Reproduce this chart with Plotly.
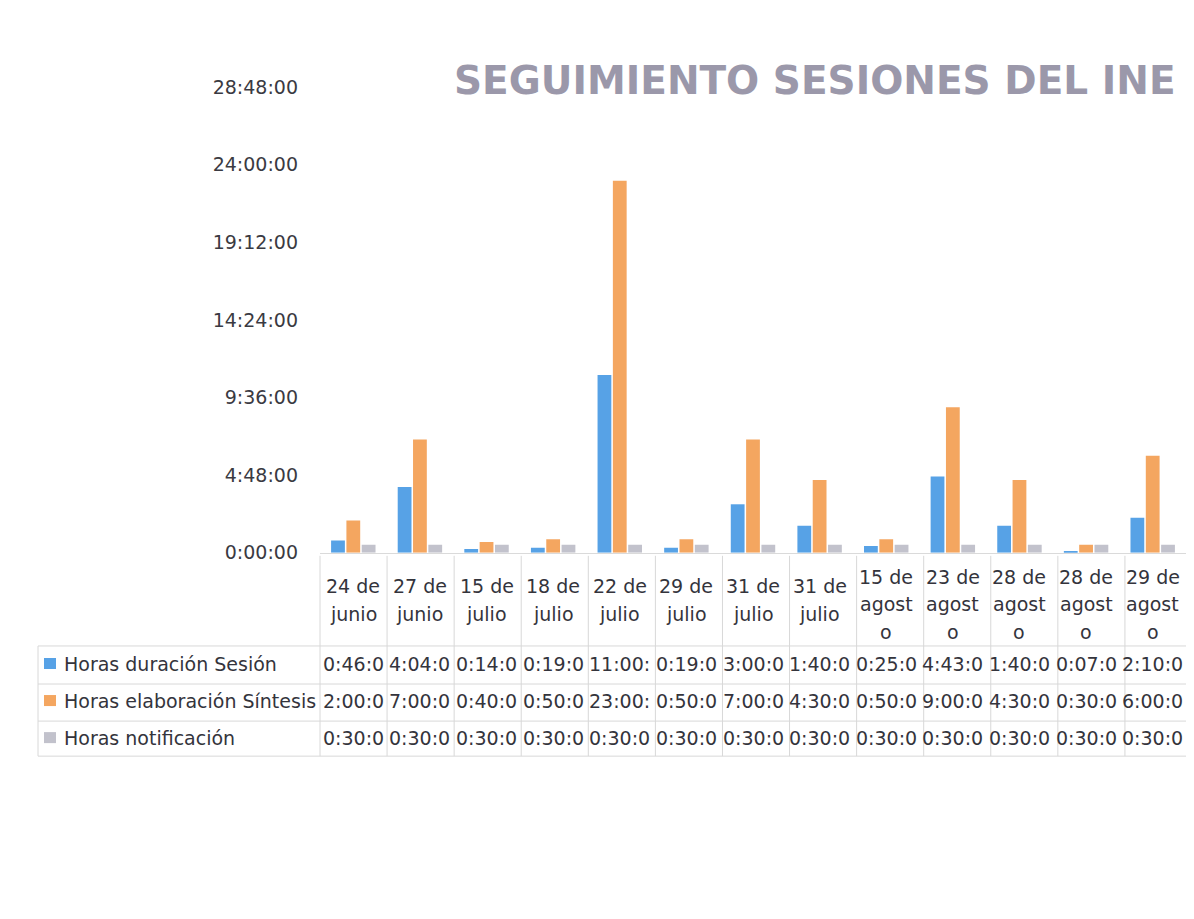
import plotly.graph_objects as go

# Page body has an 8px margin: figure is placed at (8, 8) and sized to stay inside the window
OFF = 8
FW, FH = 1194 - 2 * OFF, 919 - 2 * OFF
# measured vertical mapping of the capture (observed = A + B * placed)
VA, VB = 11.3, 0.974

categories = [
    ["24 de", "junio"], ["27 de", "junio"], ["15 de", "julio"], ["18 de", "julio"],
    ["22 de", "julio"], ["29 de", "julio"], ["31 de", "julio"], ["31 de", "julio"],
    ["15 de", "agost", "o"], ["23 de", "agost", "o"], ["28 de", "agost", "o"],
    ["28 de", "agost", "o"], ["29 de", "agost", "o"],
]
series_names = ["Horas duración Sesión", "Horas elaboración Síntesis", "Horas notificación"]
sesion = ["0:46:00", "4:04:00", "0:14:00", "0:19:00", "11:00:00", "0:19:00", "3:00:00",
          "1:40:00", "0:25:00", "4:43:00", "1:40:00", "0:07:00", "2:10:00"]
sintesis = ["2:00:00", "7:00:00", "0:40:00", "0:50:00", "23:00:00", "0:50:00", "7:00:00",
            "4:30:00", "0:50:00", "9:00:00", "4:30:00", "0:30:00", "6:00:00"]
notificacion = ["0:30:00"] * 13
tick_labels = ["0:00:00", "4:48:00", "9:36:00", "14:24:00", "19:12:00", "24:00:00", "28:48:00"]
colors = ["#57a2e6", "#f4a660", "#c2c2cc"]
title_text = "SEGUIMIENTO SESIONES DEL INE"


def to_hours(s):
    h, m, sec = (int(v) for v in s.split(":"))
    return h + m / 60 + sec / 3600


all_series = [sesion, sintesis, notificacion]
n = len(categories)
xs = list(range(n))


# window-pixel -> paper coordinate helpers
def px(x):
    return (x - OFF) / FW


def py(y):
    y = (y - VA) / VB
    return 1 - (y - OFF) / FH


PLOT_L, PLOT_R = 320, 1192
PLOT_TOP, PLOT_BOT = 87, 552

font_family = "'DejaVu Sans', sans-serif"
text_col = "#34343c"
FS = 19

fig = go.Figure()
for name, vals, col in zip(series_names, all_series, colors):
    fig.add_trace(go.Bar(x=xs, y=[to_hours(v) for v in vals], name=name,
                         marker=dict(color=col, line=dict(width=0)), showlegend=False,
                         hovertemplate="%{y:.2f} h<extra>" + name + "</extra>"))

tick_vals = [to_hours(t) for t in tick_labels]

fig.update_layout(
    width=FW, height=FH,
    margin=dict(l=0, r=0, t=0, b=0),
    paper_bgcolor="white", plot_bgcolor="white",
    barmode="group", bargap=0.31, bargroupgap=0.1,
    xaxis=dict(domain=[px(PLOT_L), min(1.0, px(PLOT_R))], range=[-0.5, n - 0.5],
               showticklabels=False, showgrid=False, zeroline=False,
               showline=True, linecolor="#dadada", linewidth=1, ticks=""),
    yaxis=dict(domain=[py(PLOT_BOT), py(PLOT_TOP)], range=[0, tick_vals[-1]],
               tickvals=tick_vals, ticktext=tick_labels, showgrid=False,
               zeroline=False, showline=False, ticks="", ticklabelstandoff=21,
               tickfont=dict(family=font_family, size=FS, color="#3a3a42")),
    font=dict(family=font_family),
)

annotations = []
shapes = []

# Title
annotations.append(dict(x=px(815), y=py(80), xref="paper", yref="paper",
                        text="<b>" + title_text + "</b>", showarrow=False,
                        xanchor="center", yanchor="middle",
                        font=dict(family="DejaVu Sans", size=39, color="#9b98aa")))

line_col = "#d8d8d8"
col_w = (PLOT_R - PLOT_L) / n
col_edges = [PLOT_L + i * col_w for i in range(n + 1)]
row_lines = [645, 683, 720, 755]
row_centers = [663, 700, 737]

# vertical lines of table
for xe in col_edges:
    shapes.append(dict(type="line", xref="paper", yref="paper",
                       x0=px(xe), x1=px(xe), y0=py(555), y1=py(755),
                       line=dict(color=line_col, width=1)))
shapes.append(dict(type="line", xref="paper", yref="paper",
                   x0=px(38), x1=px(38), y0=py(645), y1=py(755),
                   line=dict(color=line_col, width=1)))
for yl in row_lines:
    shapes.append(dict(type="line", xref="paper", yref="paper",
                       x0=px(38), x1=px(PLOT_R), y0=py(yl), y1=py(yl),
                       line=dict(color=line_col, width=1)))

# category header labels
for i, lines in enumerate(categories):
    ys = [585, 613] if len(lines) == 2 else [576, 603, 631]
    for t, yy in zip(lines, ys):
        annotations.append(dict(x=i, y=py(yy), xref="x", yref="paper", text=t,
                                showarrow=False, xanchor="center", yanchor="middle",
                                font=dict(family=font_family, size=FS, color=text_col)))

# table values (truncated to the cell width, as shown)
for r, vals in enumerate(all_series):
    for i, v in enumerate(vals):
        annotations.append(dict(x=i, y=py(row_centers[r]), xref="x", yref="paper",
                                text=v[:6], showarrow=False, xanchor="center",
                                yanchor="middle",
                                font=dict(family=font_family, size=FS, color=text_col)))
    # legend key + label
    shapes.append(dict(type="rect", xref="paper", yref="paper",
                       x0=px(44), x1=px(56), y0=py(row_centers[r] - 6),
                       y1=py(row_centers[r] + 5), fillcolor=colors[r],
                       line=dict(width=0)))
    annotations.append(dict(x=px(62), y=py(row_centers[r]), xref="paper", yref="paper",
                            text=series_names[r], showarrow=False, xanchor="left",
                            yanchor="middle",
                            font=dict(family=font_family, size=FS, color=text_col)))

fig.update_layout(annotations=annotations, shapes=shapes)
fig.write_html("out.html")
